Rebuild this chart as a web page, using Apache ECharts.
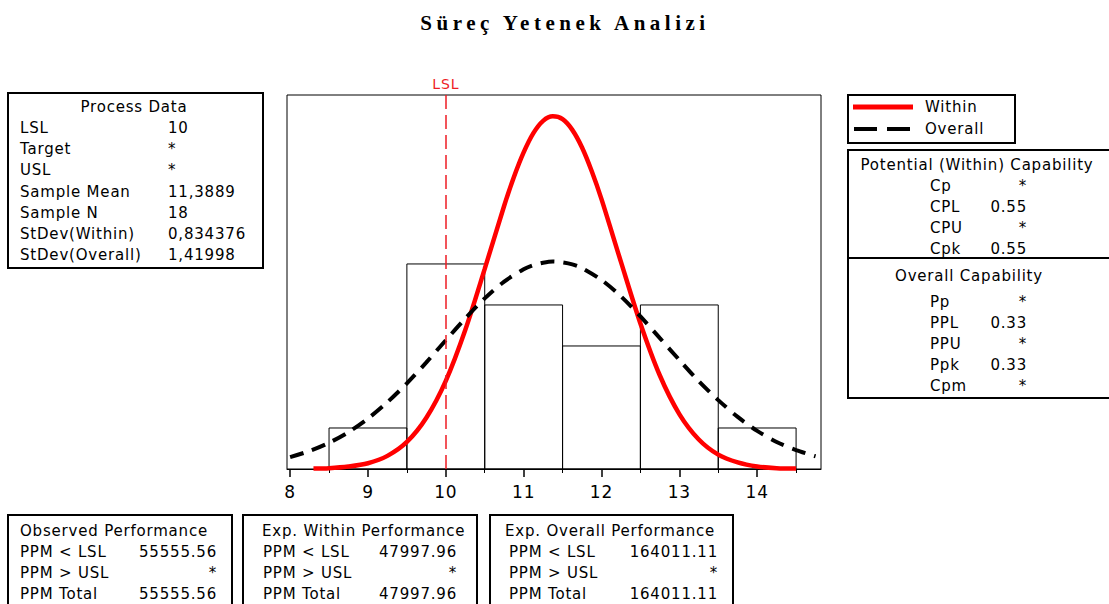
<!DOCTYPE html>
<html>
<head>
<meta charset="utf-8">
<title>Süreç Yetenek Analizi</title>
<script src="https://cdn.jsdelivr.net/npm/echarts@6/dist/echarts.min.js"></script>
<style>
  html, body { margin: 0; padding: 0; background: #fff; }
  #chart { width: 1109px; height: 604px; }
  #chart svg text { letter-spacing: 0.8px; }
</style>
</head>
<body>
<div id="chart"></div>
<script>
// histogram (bin start, count), bin width 1
var binStart = [8.5, 9.5, 10.5, 11.5, 12.5, 13.5];
var binCount = [1, 5, 4, 3, 4, 1];
var binWidth = 1;

// fitted curves
var withinX = [8.3, 8.5, 8.75, 9, 9.25, 9.5, 9.75, 10, 10.25, 10.5, 10.75, 10.875, 11, 11.125, 11.25, 11.375, 11.5, 11.625, 11.75, 11.875, 12, 12.25, 12.5, 12.75, 13, 13.25, 13.5, 13.75, 14, 14.25, 14.5];
var withinY = [0.01, 0.02, 0.06, 0.14, 0.32, 0.66, 1.25, 2.15, 3.39, 4.88, 6.42, 7.12, 7.72, 8.19, 8.49, 8.6, 8.53, 8.27, 7.84, 7.26, 6.58, 5.05, 3.55, 2.28, 1.34, 0.72, 0.35, 0.16, 0.06, 0.02, 0.01];
var overallX = [8, 8.25, 8.5, 8.75, 9, 9.25, 9.5, 9.75, 10, 10.25, 10.5, 10.75, 11, 11.125, 11.25, 11.375, 11.5, 11.625, 11.75, 12, 12.25, 12.5, 12.75, 13, 13.25, 13.5, 13.75, 14, 14.25, 14.5, 14.75];
var overallY = [0.29, 0.44, 0.64, 0.90, 1.23, 1.63, 2.09, 2.60, 3.14, 3.67, 4.16, 4.57, 4.87, 4.97, 5.03, 5.06, 5.04, 4.99, 4.90, 4.61, 4.21, 3.72, 3.19, 2.66, 2.14, 1.68, 1.27, 0.93, 0.66, 0.46, 0.31];

var lsl = 10;
var xTicks = [8, 9, 10, 11, 12, 13, 14];
var xMinorTicks = [8.5, 9.5, 10.5, 11.5, 12.5, 13.5, 14.5];

// text panels
var legendNames = ['Within', 'Overall'];
var processLabels = ['LSL', 'Target', 'USL', 'Sample Mean', 'Sample N', 'StDev(Within)', 'StDev(Overall)'];
var processValues = ['10', '*', '*', '11,3889', '18', '0,834376', '1,41998'];
var withinCapLabels = ['Cp', 'CPL', 'CPU', 'Cpk'];
var withinCapValues = ['*', '0.55', '*', '0.55'];
var overallCapLabels = ['Pp', 'PPL', 'PPU', 'Ppk', 'Cpm'];
var overallCapValues = ['*', '0.33', '*', '0.33', '*'];
var ppmLabels = ['PPM < LSL', 'PPM > USL', 'PPM Total'];
var observedPPM = ['55555.56', '*', '55555.56'];
var expWithinPPM = ['47997.96', '*', '47997.96'];
var expOverallPPM = ['164011.11', '*', '164011.11'];

var TITLE = 'Süreç Yetenek Analizi';
var FONT = '15px "DejaVu Sans"';

function zip(xs, ys) {
  return xs.map(function (x, i) { return [x, ys[i]]; });
}

function txt(x, y, s, align) {
  return {
    type: 'text', silent: true,
    style: { x: x, y: y, text: s, font: FONT, fill: '#000',
      align: align || 'left', verticalAlign: 'middle',
      textAlign: align || 'left', textVerticalAlign: 'middle' }
  };
}
function box(x, y, w, h) {
  return { type: 'rect', silent: true, shape: { x: x, y: y, width: w, height: h },
    style: { fill: 'none', stroke: '#000', lineWidth: 2 } };
}
function hline(x1, x2, y, color, width, dash) {
  return { type: 'line', silent: true, shape: { x1: x1, y1: y, x2: x2, y2: y },
    style: { stroke: color || '#000', lineWidth: width || 2, lineDash: dash || null } };
}

var g = [];
// legend
g.push(box(848, 95, 167, 48));
g.push(hline(853, 913, 107, '#ff0000', 5));
g.push(txt(925, 107, legendNames[0]));
g.push(hline(854, 913, 129, '#000', 4, [23, 10]));
g.push(txt(925, 129, legendNames[1]));
// Process Data
g.push(box(8, 93, 255, 175));
g.push(txt(134, 107, 'Process Data', 'center'));
processLabels.forEach(function (l, i) {
  g.push(txt(20, 128 + i * 21.2, l));
  g.push(txt(168, 128 + i * 21.2, processValues[i]));
});
// capability panel
g.push(box(848, 150, 280, 248));
g.push(hline(848, 1128, 258));
g.push(txt(977, 165, 'Potential (Within) Capability', 'center'));
withinCapLabels.forEach(function (l, i) {
  g.push(txt(930, 186 + i * 21, l));
  g.push(txt(1027, 186 + i * 21, withinCapValues[i], 'right'));
});
g.push(txt(969, 276, 'Overall Capability', 'center'));
overallCapLabels.forEach(function (l, i) {
  g.push(txt(930, 302 + i * 21, l));
  g.push(txt(1027, 302 + i * 21, overallCapValues[i], 'right'));
});
// bottom panels
var bottom = [
  { x: 8, w: 224, title: 'Observed Performance', tx: 20, lx: 20, vx: 217, vals: observedPPM },
  { x: 243, w: 234, title: 'Exp. Within Performance', tx: 262, lx: 263, vx: 457, vals: expWithinPPM },
  { x: 490, w: 243, title: 'Exp. Overall Performance', tx: 505, lx: 509, vx: 718, vals: expOverallPPM }
];
bottom.forEach(function (b) {
  g.push(box(b.x, 515, b.w, 100));
  g.push(txt(b.tx, 531, b.title));
  ppmLabels.forEach(function (l, i) {
    g.push(txt(b.lx, 552 + i * 21, l));
    g.push(txt(b.vx, 552 + i * 21, b.vals[i], 'right'));
  });
});

var chart = echarts.init(document.getElementById('chart'), null, { renderer: 'svg' });

var option = {
  backgroundColor: '#fff',
  animation: false,
  title: {
    text: TITLE,
    left: 560, top: 7, textAlign: 'center',
    textStyle: { fontFamily: '"Liberation Serif"', fontWeight: 'bold', fontSize: 21, color: '#000' }
  },
  graphic: g,
  grid: {
    left: 287, right: 288, top: 95, bottom: 135,
    show: true, borderColor: '#000', borderWidth: 1, backgroundColor: 'transparent'
  },
  xAxis: [{
    type: 'value', min: 7.96, max: 14.82,
    splitLine: { show: false },
    axisLine: { onZero: false, lineStyle: { color: '#000', width: 1 } },
    axisTick: { length: 8, lineStyle: { color: '#000', width: 1.5 }, customValues: xTicks },
    axisLabel: { customValues: xTicks, color: '#000', fontSize: 17, fontFamily: '"DejaVu Sans"', margin: 14 }
  }, {
    type: 'value', min: 7.96, max: 14.82, position: 'bottom',
    splitLine: { show: false },
    axisLine: { show: false },
    axisTick: { length: 4, lineStyle: { color: '#000', width: 1 }, customValues: xMinorTicks },
    axisLabel: { show: false }
  }],
  yAxis: { type: 'value', min: 0, max: 9.12, show: false },
  series: [
    {
      type: 'custom', name: 'hist', silent: true,
      renderItem: function (params, api) {
        var x0 = api.value(0), c = api.value(1);
        var p0 = api.coord([x0, 0]);
        var p1 = api.coord([x0 + binWidth, c]);
        return {
          type: 'rect',
          shape: { x: p0[0], y: p1[1], width: p1[0] - p0[0], height: p0[1] - p1[1] },
          style: { fill: 'none', stroke: '#000', lineWidth: 1 }
        };
      },
      data: zip(binStart, binCount),
      z: 1
    },
    {
      type: 'line', name: 'Within', data: zip(withinX, withinY),
      smooth: 0.3, symbol: 'none', silent: true,
      lineStyle: { color: '#ff0000', width: 4.5 },
      itemStyle: { color: '#ff0000' },
      markLine: {
        silent: true, symbol: 'none',
        lineStyle: { color: '#ee1c25', width: 1.5, type: [14, 6] },
        label: { show: true, position: 'end', formatter: 'LSL', color: '#ee1c25', fontSize: 14, fontFamily: '"DejaVu Sans"', distance: 4 },
        data: [{ xAxis: lsl }]
      },
      z: 3
    },
    {
      type: 'line', name: 'Overall', data: zip(overallX, overallY),
      smooth: 0.3, symbol: 'none', silent: true,
      lineStyle: { color: '#000', width: 4, type: [14, 9] },
      itemStyle: { color: '#000' },
      z: 4
    }
  ]
};

chart.setOption(option);

// wide spacing of the title, as in the original
function spaceTitle() {
  var texts = document.querySelectorAll('#chart svg text');
  for (var i = 0; i < texts.length; i++) {
    if (texts[i].textContent === TITLE) texts[i].style.letterSpacing = '4.5px';
  }
}
spaceTitle();
chart.on('finished', spaceTitle);
</script>
</body>
</html>
